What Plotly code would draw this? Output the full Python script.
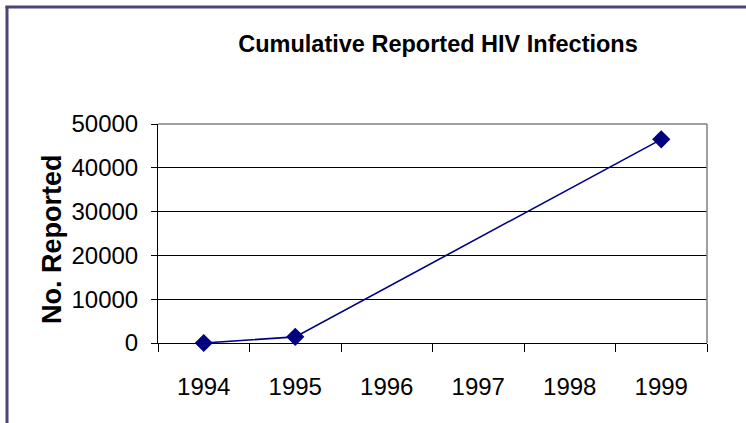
import plotly.graph_objects as go

years = ["1994", "1995", "1996", "1997", "1998", "1999"]
reported = [0, 1400, None, None, None, 46500]
y_ticks = [0, 10000, 20000, 30000, 40000, 50000]

W, H = 746, 423
L, R, T, B = 158, 39, 124, 80
pw, ph = W - L - R, H - T - B

def px_x(x):
    return (x - L) / pw

def px_y(y):
    return (H - B - y) / ph

fig = go.Figure()
fig.add_trace(go.Scatter(
    x=years, y=reported, mode="lines+markers", connectgaps=True,
    line=dict(color="#000080", width=1.6),
    marker=dict(symbol="diamond", size=14, color="#000080"),
    showlegend=False, cliponaxis=False,
))

font = "Liberation Sans, Arial, sans-serif"
fig.update_layout(
    width=W, height=H,
    margin=dict(l=L, r=R, t=T, b=B, autoexpand=False),
    paper_bgcolor="white", plot_bgcolor="white",
    font=dict(family=font, color="black", size=24),
    title=dict(text="<b>Cumulative Reported HIV Infections</b>",
               font=dict(family=font, size=23.5, color="black"),
               x=438 / W, xanchor="center", xref="container",
               y=1 - 44 / H, yanchor="middle", yref="container"),
    xaxis=dict(type="category", categoryorder="array", categoryarray=years,
               range=[-0.5, 5.5], tickson="boundaries", ticks="outside",
               ticklen=8, tickcolor="black", tickwidth=1,
               showline=True, linecolor="black", linewidth=1,
               showgrid=False, zeroline=False,
               tickfont=dict(size=24), ticklabelstandoff=22),
    yaxis=dict(range=[0, 50000], tickvals=y_ticks,
               ticktext=[str(v) for v in y_ticks],
               ticks="outside", ticklen=6, tickcolor="black", tickwidth=1,
               showline=True, linecolor="black", linewidth=1,
               showgrid=True, gridcolor="black", gridwidth=1,
               zeroline=False, tickfont=dict(size=24), ticklabelstandoff=8),
)

# y-axis title
fig.add_annotation(text="<b>No. Reported</b>", textangle=-90,
                   xref="paper", yref="paper", x=px_x(52), y=px_y(239),
                   xanchor="center", yanchor="middle", showarrow=False,
                   font=dict(family=font, size=27, color="black"))

# plot area top/right border (gray)
fig.add_shape(type="line", xref="paper", yref="paper", x0=0, x1=1, y0=1, y1=1,
              line=dict(color="#808080", width=1.5), layer="above")
fig.add_shape(type="line", xref="paper", yref="paper", x0=1, x1=1, y0=0, y1=1,
              line=dict(color="#808080", width=1.5), layer="above")

# outer chart frame (left and top edges; the rest lies past the image)
frame_c = "#4b4573"
fig.add_shape(type="line", xref="paper", yref="paper",
              x0=px_x(7), x1=px_x(7), y0=px_y(6), y1=px_y(H),
              line=dict(color=frame_c, width=3), layer="above")
for xa, xb in [(5.5, 380), (380, W)]:
    fig.add_shape(type="line", xref="paper", yref="paper",
                  x0=px_x(xa), x1=px_x(xb), y0=px_y(7), y1=px_y(7),
                  line=dict(color=frame_c, width=3), layer="above")

fig.write_html("out.html", config={"displayModeBar": False},
               post_script="document.body.style.margin='0';")
